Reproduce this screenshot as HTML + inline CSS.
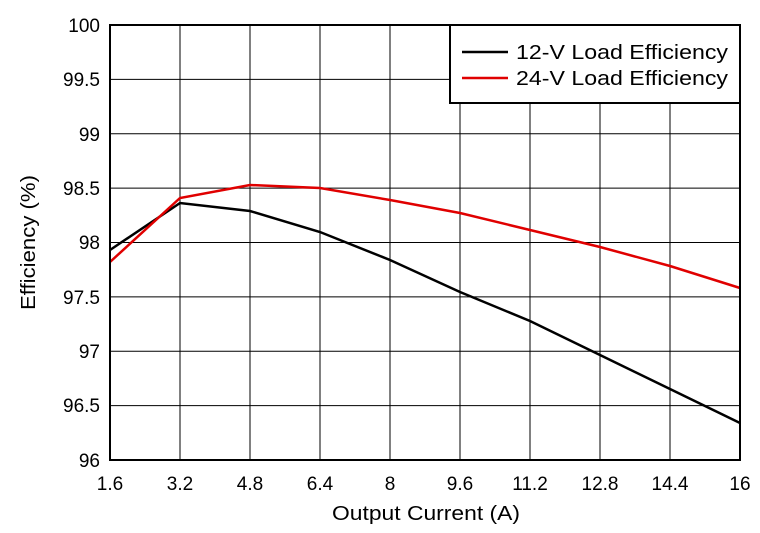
<!DOCTYPE html>
<html><head><meta charset="utf-8"><style>
html,body{margin:0;padding:0;background:#fff;}
svg text{font-family:"Liberation Sans",Arial,sans-serif;fill:#000;}
</style></head><body>
<svg width="760" height="528" viewBox="0 0 760 528" xmlns="http://www.w3.org/2000/svg">
<rect width="760" height="528" fill="#fff"/>
<g stroke="#000" stroke-width="1">
<line x1="180" y1="25" x2="180" y2="460"/><line x1="250" y1="25" x2="250" y2="460"/>
<line x1="320" y1="25" x2="320" y2="460"/><line x1="390" y1="25" x2="390" y2="460"/>
<line x1="460" y1="25" x2="460" y2="460"/><line x1="530" y1="25" x2="530" y2="460"/>
<line x1="600" y1="25" x2="600" y2="460"/><line x1="670" y1="25" x2="670" y2="460"/>
<line x1="110" y1="79.4" x2="740" y2="79.4"/><line x1="110" y1="133.8" x2="740" y2="133.8"/>
<line x1="110" y1="188.1" x2="740" y2="188.1"/><line x1="110" y1="242.5" x2="740" y2="242.5"/>
<line x1="110" y1="296.9" x2="740" y2="296.9"/><line x1="110" y1="351.3" x2="740" y2="351.3"/>
<line x1="110" y1="405.6" x2="740" y2="405.6"/>
</g>
<polyline fill="none" stroke="#000" stroke-width="2.5" points="110,250 180,203 250,211 320,232 390,260 460,292 530,321 600,355 670,389 740,423"/>
<polyline fill="none" stroke="#e00000" stroke-width="2.5" points="110,262 180,198 250,185 320,188 390,200 460,213 530,230 600,247 670,266 740,288"/>
<rect x="110" y="25" width="630" height="435" fill="none" stroke="#000" stroke-width="2"/>
<rect x="450" y="25" width="290" height="78" fill="#fff" stroke="#000" stroke-width="2"/>
<line x1="462" y1="52" x2="508" y2="52" stroke="#000" stroke-width="2.5"/>
<line x1="462" y1="78" x2="508" y2="78" stroke="#e00000" stroke-width="2.5"/>
<text x="516" y="59" font-size="20.5" textLength="212" lengthAdjust="spacingAndGlyphs">12-V Load Efficiency</text>
<text x="516" y="85" font-size="20.5" textLength="212" lengthAdjust="spacingAndGlyphs">24-V Load Efficiency</text>
<g font-size="19" text-anchor="end">
<text x="100" y="32">100</text><text x="100" y="86">99.5</text><text x="100" y="141">99</text>
<text x="100" y="195">98.5</text><text x="100" y="249">98</text><text x="100" y="304">97.5</text>
<text x="100" y="358">97</text><text x="100" y="412">96.5</text><text x="100" y="467">96</text>
</g>
<g font-size="19" text-anchor="middle">
<text x="110" y="490">1.6</text><text x="180" y="490">3.2</text><text x="250" y="490">4.8</text>
<text x="320" y="490">6.4</text><text x="390" y="490">8</text><text x="460" y="490">9.6</text>
<text x="530" y="490">11.2</text><text x="600" y="490">12.8</text><text x="670" y="490">14.4</text>
<text x="740" y="490">16</text>
</g>
<text x="332" y="520" font-size="20.5" textLength="188" lengthAdjust="spacingAndGlyphs">Output Current (A)</text>
<text transform="translate(35,310) rotate(-90)" font-size="20.5" textLength="135" lengthAdjust="spacingAndGlyphs">Efficiency (%)</text>
</svg>
</body></html>
